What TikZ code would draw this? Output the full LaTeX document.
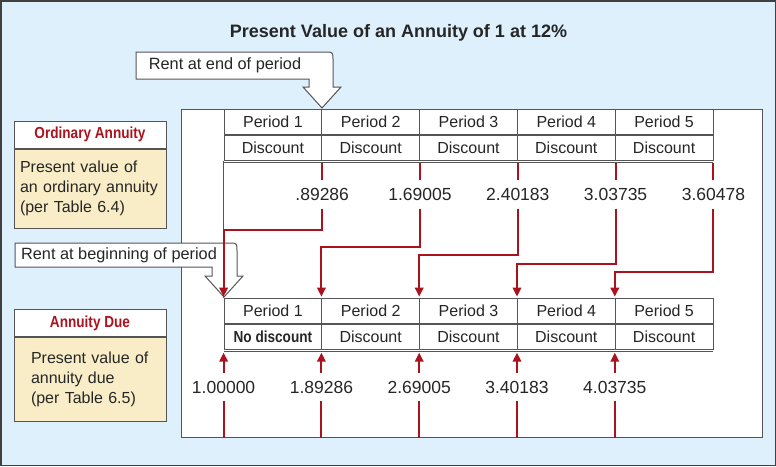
\documentclass[tikz,border=0pt]{standalone}
\usepackage{fontspec}
\setmainfont{Liberation Sans}
\newfontfamily\narrowbold{Liberation Sans}[FakeStretch=0.85]
\usepackage{tikz}
\usetikzlibrary{positioning, arrows.meta, calc}

\definecolor{skyback}{RGB}{222,240,251}
\definecolor{duered}{RGB}{170,18,30}
\definecolor{notepad}{RGB}{249,237,199}
\definecolor{rulegray}{RGB}{85,85,85}

\begin{document}
\begin{tikzpicture}[x=1pt, y=-1pt,
    cell/.style={draw=rulegray, line width=0.8pt, minimum width=97.8pt, minimum height=25.5pt, inner sep=0pt, text=black!85, font=\fontsize{16}{20}\selectfont},
    num/.style={minimum height=28pt, inner sep=0pt, text=black!85, font=\fontsize{17.5}{20}\selectfont},
    headbox/.style={draw=rulegray, fill=white, line width=0.8pt, minimum width=152pt, minimum height=27.5pt, inner sep=0pt, text=duered, font=\narrowbold\bfseries\fontsize{16}{18}\selectfont},
    notebox/.style={draw=rulegray, fill=notepad, line width=0.8pt, align=left, inner ysep=0pt, text=black!85, font=\fontsize{16}{20}\selectfont},
    callout/.style={draw=rulegray, fill=white, line width=1pt, line join=miter},
    callouttext/.style={inner sep=0pt, text=black!85, font=\fontsize{16.3}{18}\selectfont},
    tabline/.style={draw=rulegray, line width=0.8pt},
    redline/.style={draw=duered, line width=2pt},
    redarr/.style={redline, -{Triangle[length=9pt, width=8.5pt]}}
]
    \useasboundingbox (0,0) rectangle (776,466);
    \draw[line width=1.5pt, draw=black!75, fill=skyback] (0.75,0.75) rectangle (775.25,465.25);

    \node[text=black!85, font=\bfseries\fontsize{18}{20}\selectfont] (title) at (398.5,33) {Present Value of an Annuity of 1 at 12\%};

    \node[draw=rulegray, fill=white, line width=1pt, minimum width=581pt, minimum height=328pt, inner sep=0pt] (frame) at (471.5,273) {};

    % the two tables
    \foreach \i in {1,...,5} {
        \node[cell] (tp\i) at ({224+97.8*(\i-0.5)},121.75) {Period \i};
        \node[cell, below=0pt of tp\i] (td\i) {Discount};
        \node[cell] (bp\i) at ({224+97.8*(\i-0.5)},310.75) {Period \i};
    }
    \node[cell, below=0pt of bp1, font=\narrowbold\bfseries\fontsize{16}{18}\selectfont] (bd1) {No discount};
    \foreach \i in {2,...,5}
        \node[cell, below=0pt of bp\i] (bd\i) {Discount};
    \draw[tabline, double, double distance=1.2pt] (td1.south west) -- (td5.south east);
    \draw[tabline, double, double distance=1.2pt] (bd1.south west) -- (bd5.south east);
    \draw[tabline] (td1.south west) -- (bp1.north west);

    % left notes
    \node[headbox] (ordhead) at (90,134.75) {Ordinary Annuity};
    \node[notebox, below=0pt of ordhead, text width=140pt, inner xsep=6pt, minimum height=79pt] (ordbody)
        {Present value of\\an ordinary annuity\\(per Table 6.4)};
    \node[headbox] (duehead) at (90,323) {Annuity Due};
    \node[notebox, below=0pt of duehead, text width=118pt, inner xsep=17pt, minimum height=84pt] (duebody)
        {Present value of\\annuity due\\(per Table 6.5)};

    % callouts
    \draw[callout] (136,79) -- (136,52) -- (325,52) .. controls (333,52) .. (333,60) -- (333,87) -- (341,87)
        -- (322,108) -- (303,87) -- (309,87) -- (309,79) -- cycle;
    \node[callouttext] (rentend) at (225,65) {Rent at end of period};
    \draw[callout] (15,267) -- (15,243) -- (229,243) .. controls (237,243) .. (237,251) -- (237,276) -- (243,276)
        -- (224,297) -- (205,276) -- (212,276) -- (212,267) -- cycle;
    \node[callouttext] (rentbegin) at (119,255) {Rent at beginning of period};

    % ordinary annuity values, shifted one period back
    \foreach \i/\val/\yh in {1/.89286/230, 2/1.69005/247, 3/2.40183/255, 4/3.03735/264, 5/3.60478/272} {
        \path (0,\yh) coordinate (h\i);
        \node[num, below=19pt of td\i.south east] (tn\i) {\val};
        \draw[redline] ([yshift=-1.5pt]td\i.south east) -- (tn\i.north);
        \draw[redarr] (tn\i.south) -- (tn\i.south |- h\i) -| ([yshift=1pt]bp\i.north west);
    }

    % annuity due values
    \path (0,387) coordinate (lowrow);
    \foreach \i/\val in {1/1.00000, 2/1.89286, 3/2.69005, 4/3.40183, 5/4.03735} {
        \node[num] (bn\i) at (bd\i.south west |- lowrow) {\val};
        \draw[redarr] (bn\i.north) -- ([yshift=-2.5pt]bd\i.south west);
        \draw[redline] (bn\i.south) -- (bn\i.south |- frame.south);
    }
\end{tikzpicture}
\end{document}
